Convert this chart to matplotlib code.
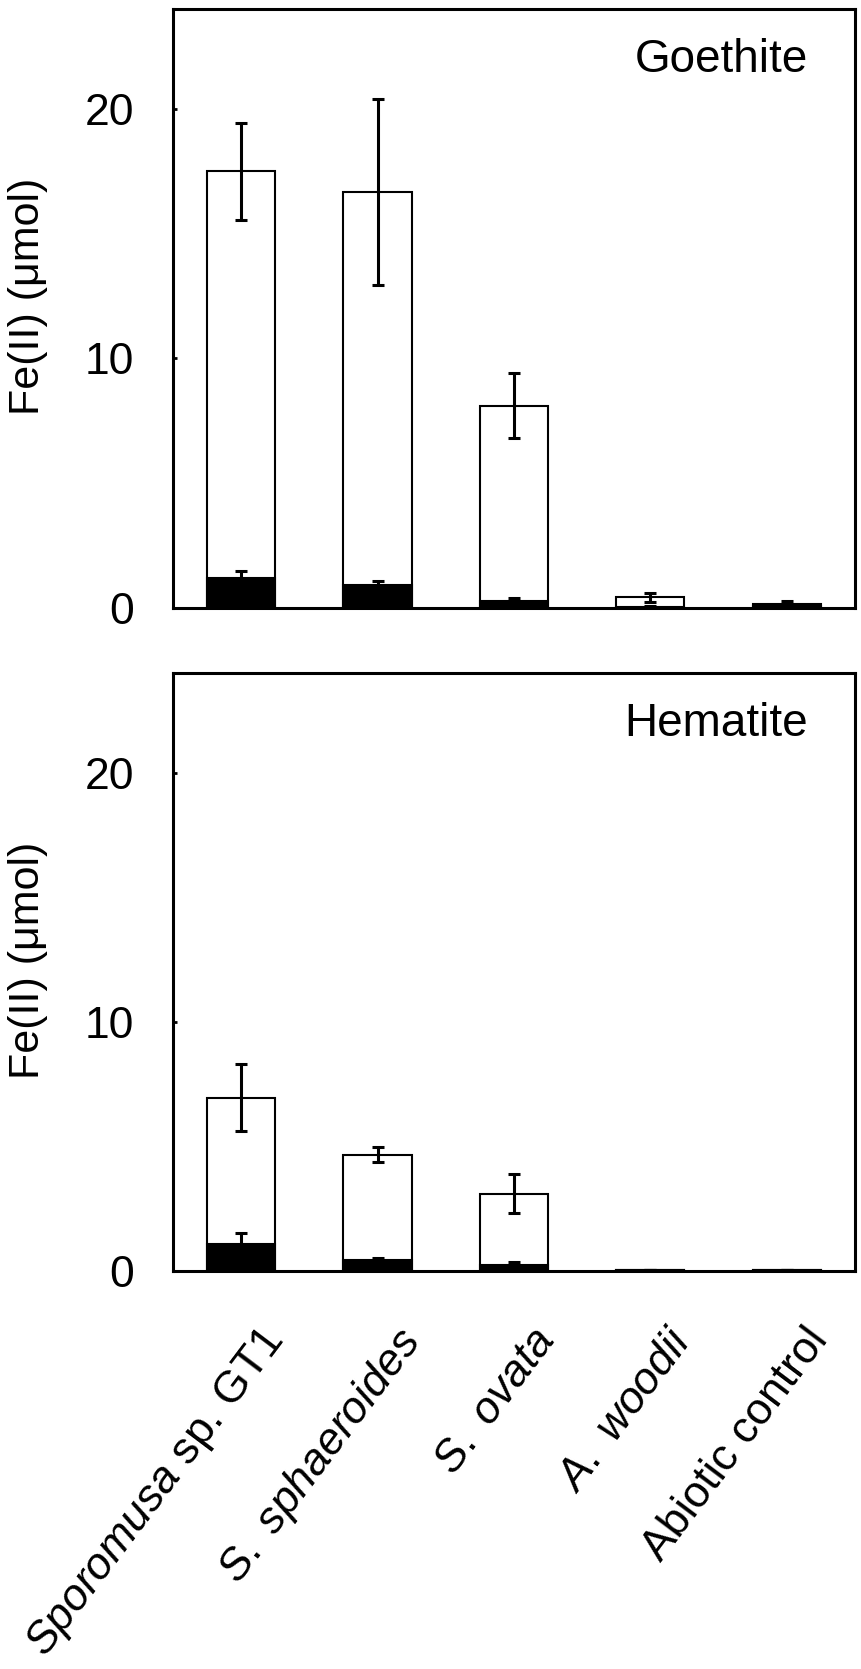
import numpy as np
import matplotlib
matplotlib.use("Agg")
from matplotlib import pyplot as plt
from matplotlib import transforms

plt.rcParams['font.family'] = ['Liberation Sans', 'DejaVu Sans']
plt.rcParams['mathtext.fontset'] = 'custom'
plt.rcParams['mathtext.rm'] = 'Liberation Sans'
plt.rcParams['mathtext.it'] = 'Liberation Sans:italic'

strains = [r'$\it{Sporomusa}$ sp. GT1', r'$\it{S.\ sphaeroides}$', r'$\it{S.\ ovata}$',
           r'$\it{A.\ woodii}$', 'Abiotic control']

# total Fe(II) (white) and dissolved Fe(II) (black), with error bars
goethite_total = [17.5, 16.67, 8.1, 0.44, 0.1]
goethite_total_err = [1.95, 3.73, 1.3, 0.18, 0.0]
goethite_diss = [1.19, 0.91, 0.29, 0.05, 0.16]
goethite_diss_err = [0.31, 0.17, 0.12, 0.05, 0.12]

hematite_total = [6.95, 4.66, 3.1, 0.03, 0.03]
hematite_total_err = [1.35, 0.3, 0.78, 0.0, 0.0]
hematite_diss = [1.07, 0.44, 0.25, 0.05, 0.05]
hematite_diss_err = [0.46, 0.08, 0.12, 0.0, 0.0]

W, H = 862, 1669
fig = plt.figure(figsize=(W / 100, H / 100), dpi=100)

x0, x1 = 173 / W, 855 / W
ax_top = fig.add_axes([x0, 1 - 608 / H, x1 - x0, 599 / H])
ax_bot = fig.add_axes([x0, 1 - 1271 / H, x1 - x0, 598 / H])

x = np.arange(len(strains))
err_kw = dict(ecolor='black', elinewidth=2.2, capsize=4, capthick=2.2)


def draw_panel(ax, total, total_err, diss, diss_err, title):
    ax.bar(x, total, width=0.5, color='white', edgecolor='black', linewidth=1.5,
           yerr=total_err, error_kw=err_kw, zorder=2)
    ax.bar(x, diss, width=0.5, color='black', edgecolor='black', linewidth=1.5,
           yerr=diss_err, error_kw=err_kw, zorder=3)
    ax.set_xlim(-0.5, 4.5)
    ax.set_ylim(0, 24)
    ax.set_yticks([0, 10, 20])
    ax.tick_params(axis='y', direction='in', length=3, width=2, pad=28, labelsize=32)
    for s in ax.spines.values():
        s.set_linewidth(2.2)
    ax.set_ylabel('Fe(II) (μmol)', fontsize=31)
    ax.yaxis.set_label_coords(-0.183, 0.52)
    ax.text(0.931, 0.895, title, transform=ax.transAxes, ha='right', va='baseline',
            fontsize=33)


draw_panel(ax_top, goethite_total, goethite_total_err, goethite_diss, goethite_diss_err,
           'Goethite')
draw_panel(ax_bot, hematite_total, hematite_total_err, hematite_diss, hematite_diss_err,
           'Hematite')

ax_top.set_xticks(x)
ax_top.tick_params(axis='x', length=0, labelbottom=False)

ax_bot.set_xticks(x)
ax_bot.set_xticklabels(strains, rotation=53, ha='right', va='top',
                       rotation_mode='anchor', fontsize=32)
ax_bot.tick_params(axis='x', length=0, pad=0)
offset = transforms.ScaledTranslation(17 / 100, -50 / 100, fig.dpi_scale_trans)
for lab in ax_bot.get_xticklabels():
    lab.set_transform(lab.get_transform() + offset)

fig.savefig('out.png', dpi=100)
